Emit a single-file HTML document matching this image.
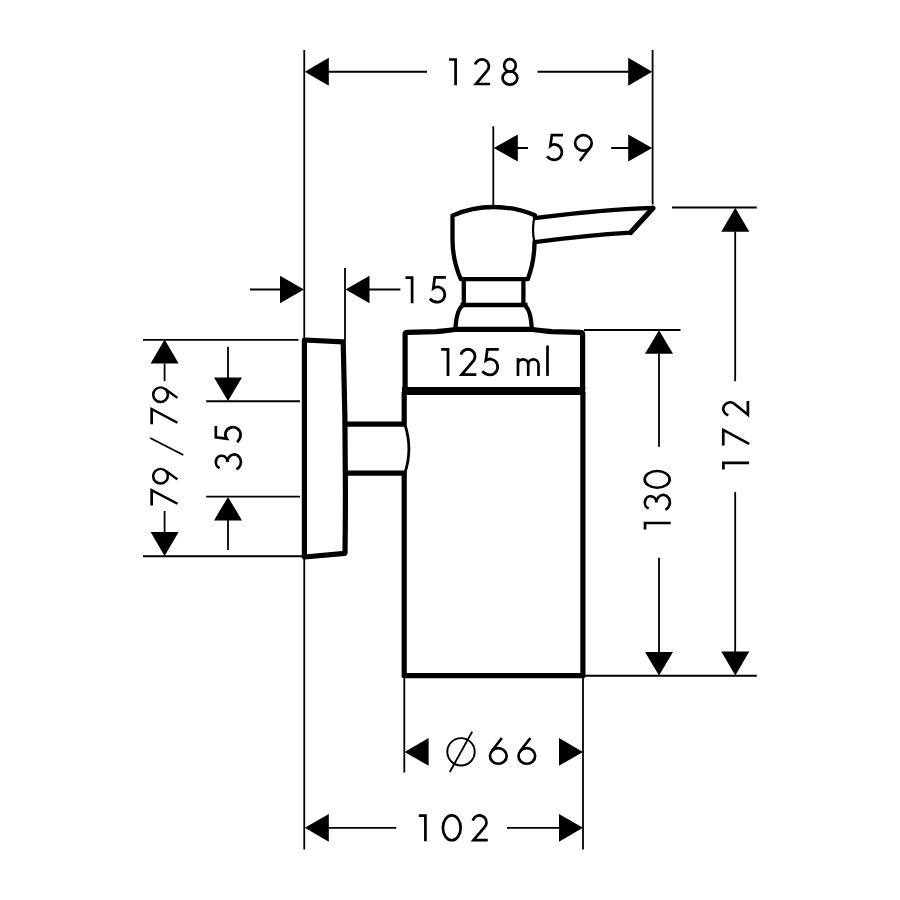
<!DOCTYPE html>
<html>
<head>
<meta charset="utf-8">
<title>Soap dispenser dimensions</title>
<style>
html,body{margin:0;padding:0;background:#fff;}
body{width:900px;height:900px;overflow:hidden;font-family:"Liberation Sans",sans-serif;}
svg{display:block;}
</style>
</head>
<body>
<svg width="900" height="900" viewBox="0 0 900 900">
<defs>
<g id="g1"><path d="M0,-24.7 H6.35 V0"/></g>
<g id="g2"><path d="M2.33,-19.92 A6.65,6.65 0 1 1 13.84,-13.93 L3.0,-1.15 H16.7"/></g>
<g id="g3"><path d="M2.27,-21.2 A6.1,5.55 0 1 1 8,-13.75 A7.3,6.5 0 1 1 1.14,-5.08"/></g>
<g id="g5"><path d="M16.9,-24.85 H6.2 L4.8,-14.4 A7.0,7.35 0 1 1 9.05,-1.05 Q4.6,-1.05 1.5,-4.4"/></g>
<g id="g6"><ellipse cx="9.15" cy="-8.6" rx="8" ry="7.5"/><path d="M2.85,-13.35 L12.6,-25.9"/></g>
<g id="g9"><ellipse cx="9.15" cy="-17.3" rx="8" ry="7.5"/><path d="M15.45,-12.65 L5.7,-0.1"/></g>
<g id="g7"><path d="M0.3,-24.85 H16.4 L2.0,0"/></g>
<g id="g8"><ellipse cx="8.3" cy="-19" rx="5.6" ry="6"/><ellipse cx="8.3" cy="-7" rx="7.1" ry="6.4"/></g>
<g id="g0"><ellipse cx="9.7" cy="-13" rx="8.55" ry="12.0"/></g>
<g id="gm"><path d="M1.15,-17.4 V0 M1.15,-11.5 A4.98,4.75 0 0 1 11.1,-11.5 V0 M11.1,-11.5 A4.98,4.75 0 0 1 21.05,-11.5 V0"/></g>
<g id="gl"><path d="M1.15,-29.2 V0"/></g>
<filter id="soft" x="0" y="0" width="900" height="900" filterUnits="userSpaceOnUse"><feGaussianBlur stdDeviation="0.38"/></filter>
</defs>
<rect x="0" y="0" width="900" height="900" fill="#ffffff"/>
<g filter="url(#soft)">

<!-- thin dimension / extension lines -->
<path fill="none" stroke="#000" stroke-width="1.8" d="M304.25,50 V849.5 M652.6,50 V204.5 M493.3,126.3 V205.5 M345,268 V341 M328,71.75 H427 M537.5,71.75 H629.5 M517,148 H528 M611.25,148 H629.5 M250,289.5 H280.5 M369,289.5 H400.4 M143,339.9 H298.5 M206.25,401.25 H300 M206.25,496.6 H300 M143,556.25 H303.5 M164.6,363.5 V381 M164.6,511 V532.5 M228,346.75 V378 M228,519.5 V550 M672,207.5 H756.75 M584,330 H680.5 M584,675.75 H756.75 M659,353.5 V446.75 M659,557.75 V652.5 M735.2,231.5 V381.25 M735.2,492 V652.5 M404.3,677 V772.5 M583,677 V849.5 M328.5,827.8 H396.25 M507,827.8 H559.5"/>

<!-- arrowheads -->
<g fill="#000" stroke="none">
<polygon points="304.80,71.75 328.80,57.75 328.80,85.75"/>
<polygon points="652.20,71.75 628.20,57.75 628.20,85.75"/>
<polygon points="493.80,148.00 517.80,134.40 517.80,161.60"/>
<polygon points="652.20,148.00 628.20,134.40 628.20,161.60"/>
<polygon points="304.00,289.50 280.00,275.70 280.00,303.30"/>
<polygon points="345.50,289.50 369.50,275.70 369.50,303.30"/>
<polygon points="164.60,339.60 150.60,363.60 178.60,363.60"/>
<polygon points="164.60,556.00 150.60,532.00 178.60,532.00"/>
<polygon points="228.00,401.00 214.00,377.50 242.00,377.50"/>
<polygon points="228.00,496.90 214.00,520.40 242.00,520.40"/>
<polygon points="659.00,330.20 645.00,353.70 673.00,353.70"/>
<polygon points="659.00,675.40 645.00,651.90 673.00,651.90"/>
<polygon points="735.30,207.70 721.30,231.70 749.30,231.70"/>
<polygon points="735.30,675.40 721.30,651.40 749.30,651.40"/>
<polygon points="404.60,751.90 428.60,738.10 428.60,765.70"/>
<polygon points="583.00,751.90 559.00,738.10 559.00,765.70"/>
<polygon points="304.80,827.80 328.80,813.90 328.80,841.70"/>
<polygon points="583.00,827.80 559.00,813.90 559.00,841.70"/>
</g>

<!-- product outline -->
<g fill="none" stroke="#000" stroke-width="5.2" stroke-linejoin="round" stroke-linecap="butt">
<!-- wall plate -->
<path d="M304.4,340 L343.2,341.9 Q346.4,448 345,553.3 L304.4,557 Z"/>
<!-- arm -->
<path d="M345,424.1 H404.4 M345,473.2 H404.4"/>
<!-- bottle body -->
<path d="M404.2,392 V425 M404.2,472 V675.7 H582.9 V392"/>
<!-- cap -->
<path d="M405.1,390 V334.3 Q405.1,332.3 407.1,332.3 L436,331.6 Q448,330.8 456,329.3 H532 Q540,330.8 552,331.6 L580.6,332.3 Q582.6,332.3 582.6,334.3 V390"/>
</g>
<g fill="none" stroke="#000" stroke-width="4.3" stroke-linejoin="round" stroke-linecap="butt">
<!-- pump head -->
<path d="M534.6,240.5 C534.6,255 532,268 527.8,279.2 H460.8 C456,268 452.5,255 452.5,240 L452.5,215.6 Q472,207 493.5,207 Q515,207 535,215.2 V218.5"/>
<!-- neck -->
<path d="M463.8,279.2 V305 M523.4,279.2 V305 M460.5,305 H527.5"/>
<!-- flare -->
<path d="M463.4,305 Q456.4,309 455.4,329.6 M524,305 Q531,309 531.8,329.6"/>
<!-- lever -->
<path d="M534.6,218.2 Q600,209.5 653.2,207.9 L630.5,232.7 Q586,235.4 534.6,242.2"/>
</g>
<path d="M534.4,217 Q531.6,229.5 534.4,242" fill="none" stroke="#000" stroke-width="2.2"/>
<path d="M652.8,208.3 L630.6,232.5" fill="none" stroke="#000" stroke-width="5.2" stroke-linecap="round"/>
<!-- band -->
<path d="M402,391 H585.2" fill="none" stroke="#000" stroke-width="7.8"/>
<!-- arm end bulge -->
<path d="M404.4,423 Q413.4,449 404.4,474.5" fill="none" stroke="#000" stroke-width="2.8"/>

<!-- diameter symbol -->
<g fill="none" stroke="#000" stroke-width="1.9">
<circle cx="461" cy="751.8" r="13.7"/>
<path d="M449.8,772 L472.2,731.6"/>
<!-- slash in 79 / 79 -->
<path d="M150.2,438 L183.3,455" stroke-width="1.9"/>
</g>

<!-- dimension figures -->
<g fill="none" stroke="#000" stroke-width="2.6" stroke-linejoin="miter" stroke-linecap="butt">
<use href="#g1" transform="translate(449,85.2) scale(1.04,1.04)"/>
<use href="#g2" transform="translate(472.8,85.2) scale(1.04,1.04)"/>
<use href="#g8" transform="translate(501.3,85.2) scale(1.04,1.04)"/>
<use href="#g5" transform="translate(545.4,160.9) scale(1.04,1.04)"/>
<use href="#g9" transform="translate(573.9,160.9) scale(1.04,1.04)"/>
<use href="#g1" transform="translate(405.5,303.3) scale(1.04,1.04)"/>
<use href="#g5" transform="translate(428.3,303.3) scale(1.04,1.04)"/>
<use href="#g1" transform="translate(441.2,375.9) scale(1.07,1.07)"/>
<use href="#g2" transform="translate(458.5,375.9) scale(1.07,1.07)"/>
<use href="#g5" transform="translate(480.7,375.9) scale(1.07,1.07)"/>
<use href="#gm" transform="translate(516.8,375.9) scale(1.03,1.03)"/>
<use href="#gl" transform="translate(546.3,375.9) scale(1.04,1.04)"/>
<use href="#g6" transform="translate(488.8,764.9) scale(1.04,1.04)"/>
<use href="#g6" transform="translate(517.3,764.9) scale(1.04,1.04)"/>
<use href="#g1" transform="translate(418.8,841.3) scale(1.04,1.04)"/>
<use href="#g0" transform="translate(441.7,841.3) scale(1.04,1.04)"/>
<use href="#g2" transform="translate(470.4,841.3) scale(1.04,1.04)"/>
<use href="#g1" transform="translate(670.7,529.6) rotate(-90) scale(1.04,1.04)"/>
<use href="#g3" transform="translate(670.7,510.9) rotate(-90) scale(1.04,1.04)"/>
<use href="#g0" transform="translate(670.7,488.9) rotate(-90) scale(0.98,1.04)"/>
<use href="#g1" transform="translate(749.1,469.4) rotate(-90) scale(1.04,1.04)"/>
<use href="#g7" transform="translate(749.1,445.9) rotate(-90) scale(0.97,1.04)"/>
<use href="#g2" transform="translate(749.1,417.6) rotate(-90) scale(0.99,1.04)"/>
<use href="#g3" transform="translate(241.7,470.4) rotate(-90) scale(1.04,1.04)"/>
<use href="#g5" transform="translate(241.7,443.7) rotate(-90) scale(1.04,1.04)"/>
<use href="#g7" transform="translate(177.5,505.7) rotate(-90) scale(0.95,1.04)"/>
<use href="#g9" transform="translate(177.5,484.6) rotate(-90) scale(0.92,0.98)"/>
<use href="#g7" transform="translate(177.5,424.6) rotate(-90) scale(0.95,1.04)"/>
<use href="#g9" transform="translate(177.5,403.1) rotate(-90) scale(0.92,0.98)"/>
</g>
</g>
</svg>
</body>
</html>
